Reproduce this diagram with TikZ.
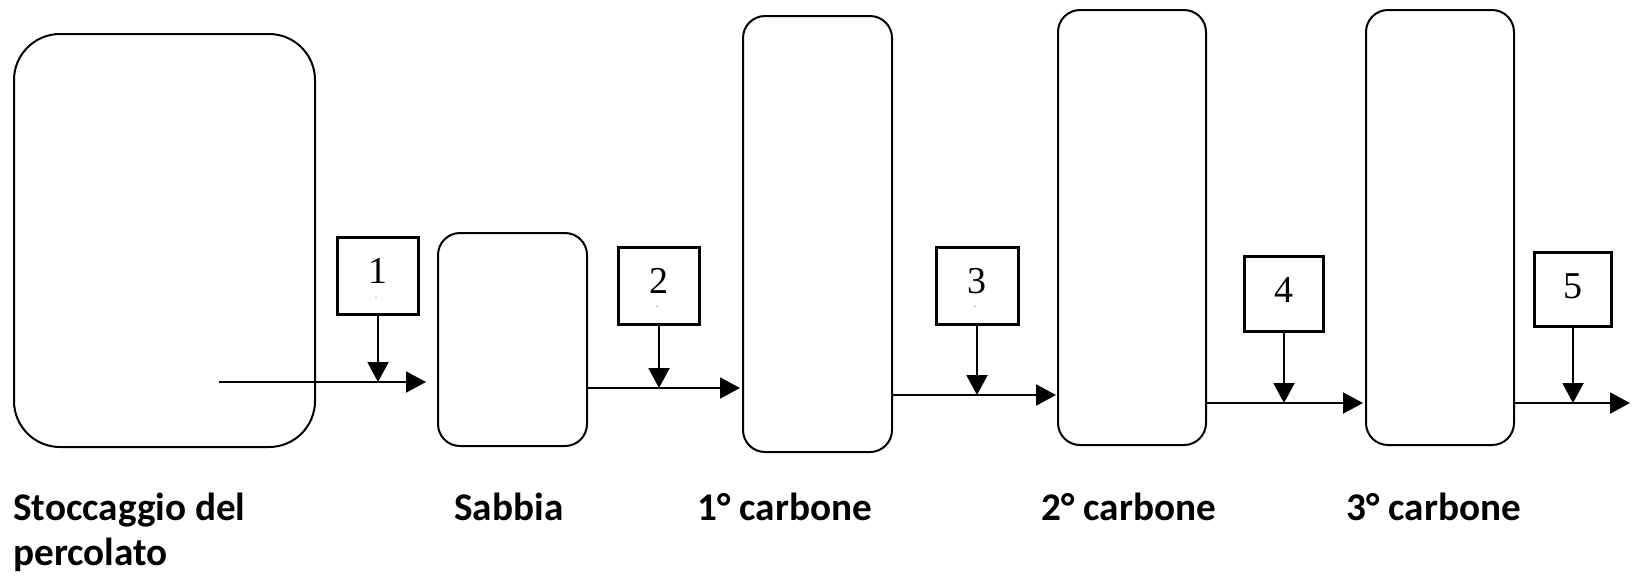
\documentclass[tikz,border=0pt]{standalone}
\usepackage{fontspec}
\setmainfont{Liberation Serif}
\newfontfamily\labfont{Carlito}
\usetikzlibrary{arrows.meta}
\begin{document}
\begin{tikzpicture}[x=0.5pt,y=-0.5pt,
  tank/.style={draw,line width=1pt,inner sep=0pt,rounded corners=11pt},
  numbox/.style={draw,line width=1.5pt,inner sep=0pt},
  num/.style={inner sep=0pt,font=\fontsize{19}{21}\selectfont},
  dotmark/.style={inner sep=0pt,text=gray,font=\fontsize{6}{7}\selectfont},
  flow/.style={line width=1pt,-{Triangle[length=10pt,width=10.5pt]}},
  lab/.style={inner sep=0pt,anchor=base west,font=\labfont\bfseries\fontsize{19.6}{22.5}\selectfont}]
\useasboundingbox (0,0) rectangle (1634,575);
% tanks
\node[tank,rounded corners=23pt,minimum width=150.5pt,minimum height=206.5pt] (T0) at (164.5,240.5) {};
\node[tank,minimum width=74.5pt,minimum height=106.5pt] (T1) at (512.5,339.5) {};
\node[tank,minimum width=74.5pt,minimum height=218pt] (T2) at (817.5,234) {};
\node[tank,minimum width=74pt,minimum height=217.5pt] (T3) at (1132,227.5) {};
\node[tank,minimum width=74pt,minimum height=217.5pt] (T4) at (1440,227.5) {};
% sample boxes
\node[numbox,minimum width=40.5pt,minimum height=38.5pt] (B1) at (378,276) {};
\node[numbox,minimum width=40.5pt,minimum height=38.5pt] (B2) at (659,285.5) {};
\node[numbox,minimum width=41pt,minimum height=38.5pt] (B3) at (977,285.5) {};
\node[numbox,minimum width=39.5pt,minimum height=37.5pt] (B4) at (1284,294) {};
\node[numbox,minimum width=38.5pt,minimum height=37pt] (B5) at (1573,289.5) {};
\node[num] (N1) at (378,271) {1};
\node[num] (N2) at (659,281) {2};
\node[num] (N3) at (977,281) {3};
\node[num] (N4) at (1284,290) {4};
\node[num] (N5) at (1573,286) {5};
\node[dotmark] (D1) at (376,298) {.};
\node[dotmark] (D2) at (657,307) {.};
\node[dotmark] (D3) at (975,307) {.};
% flow line coordinates
\coordinate (s0) at (219,382);
\coordinate (o1) at (588,388);
\coordinate (o2) at (893,395);
\coordinate (o3) at (1207,403);
\coordinate (o4) at (1515,403);
\coordinate (e5) at (1630,403);
\draw[flow,shorten >=5.5pt] (s0) -- (s0 -| T1.west);
\draw[flow,shorten >=1pt] (o1) -- (o1 -| T2.west);
\draw[flow,shorten >=0.5pt] (o2) -- (o2 -| T3.west);
\draw[flow,shorten >=1pt] (o3) -- (o3 -| T4.west);
\draw[flow] (o4) -- (e5);
\draw[flow] (B1.south) -- (B1.south |- s0);
\draw[flow] (B2.south) -- (B2.south |- o1);
\draw[flow] (B3.south) -- (B3.south |- o2);
\draw[flow] (B4.south) -- (B4.south |- o3);
\draw[flow] (B5.south) -- (B5.south |- o4);
% labels
\node[lab,align=left] (L0) at (13,565) {Stoccaggio del\\percolato};
\node[lab] (L1) at (454,520) {Sabbia};
\node[lab] (L2) at (697,520) {1° carbone};
\node[lab] (L3) at (1041,520) {2° carbone};
\node[lab] (L4) at (1346,520) {3° carbone};
\end{tikzpicture}
\end{document}
